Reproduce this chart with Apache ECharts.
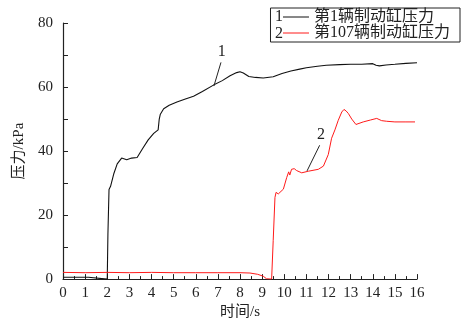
<!DOCTYPE html>
<html><head><meta charset="utf-8">
<script src="https://cdn.jsdelivr.net/npm/echarts@6/dist/echarts.min.js"></script>
<style>html,body{margin:0;padding:0;background:#fff}#c{width:461px;height:325px}</style>
</head><body><div id="c"></div>
<script>
const seriesNames = ['第1辆制动缸压力', '第107辆制动缸压力'];
const xTicks = [0,1,2,3,4,5,6,7,8,9,10,11,12,13,14,15,16];
const yTicks = [0,20,40,60,80];
// car 1 : time (s), pressure (kPa)
const t1 = [0,1.15,1.2,2.0,2.03,2.08,2.15,2.3,2.45,2.65,2.88,3.1,3.35,3.6,3.85,4.1,4.3,4.35,4.4,4.55,4.8,5.15,5.5,5.9,6.3,6.8,7.2,7.55,7.85,8.0,8.15,8.4,8.7,9.05,9.5,9.9,10.3,10.7,11.0,11.5,11.9,12.5,13.0,13.5,14.0,14.15,14.3,14.6,15.0,15.5,16.0];
const p1 = [0.6,0.6,0,0,14,28,29,33,36,37.8,37.3,37.8,38,40.8,43.5,45.5,46.6,50,51.5,53.2,54.3,55.3,56.2,57.1,58.6,60.6,62,63.5,64.5,64.8,64.4,63.3,63,62.8,63.2,64.2,65,65.6,66,66.5,66.8,67,67.1,67.1,67.3,66.8,66.6,66.9,67.1,67.4,67.6];
// car 107
const t2 = [0,1,2,3,4,5,6,7,8,8.45,8.8,9.05,9.2,9.43,9.5,9.58,9.63,9.73,9.96,10.11,10.2,10.25,10.33,10.45,10.56,10.79,11.09,11.54,11.77,11.99,12.14,12.29,12.44,12.6,12.7,12.8,12.9,13.05,13.24,13.57,13.9,14.18,14.4,14.63,15.0,15.5,15.91];
const p2 = [2.1,2,2.1,2,2.1,2,2,2,2,1.9,1.5,0.9,0.1,0,12,25.5,27.1,26.6,28.1,31.7,33.5,32.5,34.3,34.5,33.9,33.2,33.7,34.3,35.3,38.9,44,46.6,49.6,52.2,53,52.5,51.7,50,48.3,49.1,49.7,50.2,49.5,49.3,49.1,49.1,49.1];
// annotation leader lines [from, to] in data units
const note1 = [[6.82,60.3],[7.14,67.7]];
const note2 = [[11.03,33.8],[11.6,41.8]];

const zip = (a,b) => a.map((v,i)=>[v,b[i]]);
const serif = '"Liberation Serif","Noto Sans CJK SC",serif';
const txt = '#222';
const chart = echarts.init(document.getElementById('c'));
function leader(pts, label){
  return {
    silent:true, symbol:['none','none'], animation:false,
    lineStyle:{color:'#222', width:1, type:'solid'},
    label:{show:true, position:'end', formatter:label, color:txt, fontFamily:serif, fontSize:16, distance:3},
    data:[[{coord:pts[0]},{coord:pts[1]}]]
  };
}
chart.setOption({
  animation:false,
  grid:{left:63, right:44, top:23, bottom:42, containLabel:false},
  legend:{
    orient:'vertical', right:1, top:8,
    data:seriesNames,
    borderColor:'#222', borderWidth:1, padding:[1,10,1,12],
    itemGap:0, itemWidth:26, itemHeight:14,
    itemStyle:{opacity:0},
    lineStyle:{width:1},
    textStyle:{color:txt, fontFamily:serif, fontSize:16},
    inactiveColor:'#999'
  },
  graphic:[
    {type:'text', right:178, top:9, style:{text:'1', fill:txt, font:'16px "Liberation Serif"'}},
    {type:'text', right:178, top:26, style:{text:'2', fill:txt, font:'16px "Liberation Serif"'}}
  ],
  xAxis:{
    type:'value', min:0, max:16, interval:1,
    name:'时间/s', nameLocation:'middle', nameGap:22,
    nameTextStyle:{color:txt, fontFamily:serif, fontSize:15},
    axisLine:{show:true, onZero:false, lineStyle:{color:'#222', width:1.2}},
    axisTick:{show:true, inside:true, length:5, lineStyle:{color:'#222'}},
    minorTick:{show:true, splitNumber:2, length:3, lineStyle:{color:'#222'}},
    axisLabel:{color:txt, fontFamily:serif, fontSize:15, margin:6, formatter:v=>xTicks.includes(v)?String(v):''},
    splitLine:{show:false}
  },
  yAxis:{
    type:'value', min:0, max:80, interval:20,
    name:'压力/kPa', nameLocation:'middle', nameGap:36, nameRotate:90,
    nameTextStyle:{color:txt, fontFamily:serif, fontSize:15},
    axisLine:{show:true, lineStyle:{color:'#222', width:1.2}},
    axisTick:{show:true, inside:true, length:5, lineStyle:{color:'#222'}},
    minorTick:{show:true, splitNumber:2, length:5, lineStyle:{color:'#222'}},
    axisLabel:{color:txt, fontFamily:serif, fontSize:15, margin:10, formatter:v=>yTicks.includes(v)?String(v):''},
    splitLine:{show:false}
  },
  series:[
    {name:seriesNames[0], type:'line', data:zip(t1,p1), symbol:'none', color:'#111',
     lineStyle:{width:1.1, color:'#111'}, markLine:leader(note1,'1')},
    {name:seriesNames[1], type:'line', data:zip(t2,p2), symbol:'none', color:'#ff1a1a',
     lineStyle:{width:1, color:'#ff1a1a'}, markLine:leader(note2,'2')}
  ]
});
</script></body></html>
